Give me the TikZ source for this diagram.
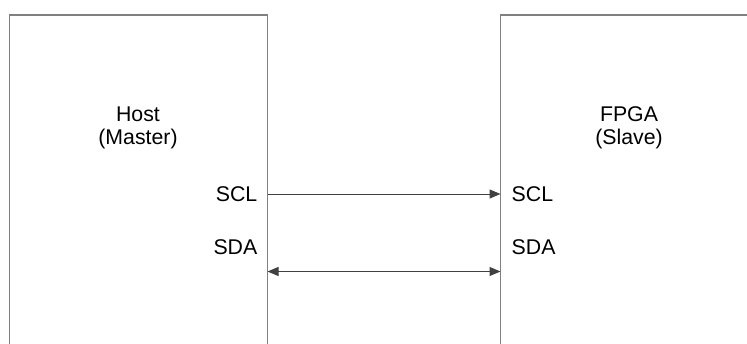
\documentclass[tikz,border=0pt]{standalone}
\usepackage{fontspec}
\setmainfont{Liberation Sans}
\usetikzlibrary{arrows.meta}
\definecolor{boxgray}{HTML}{808080}
\definecolor{arrgray}{HTML}{404040}
\begin{document}
\begin{tikzpicture}[x=1pt,y=-1pt,
  boxline/.style={draw=boxgray,line width=1.3pt},
  sig/.style={draw=arrgray,line width=1pt},
  lbl/.style={inner sep=0pt,font=\fontsize{21.3}{23}\selectfont},
  title/.style={lbl,align=center}]
\useasboundingbox (0,0) rectangle (747,343);
\clip (0,0) rectangle (747,343);
\fill[white] (0,0) rectangle (747,343);
% boxes (open at the bottom, right box runs past the right edge)
\draw[boxline] (9.5,345) |- (267.5,15) -- (267.5,345);
\draw[boxline] (500.5,345) |- (770,15);
\coordinate (hostR) at (267.5,0);
\coordinate (fpgaL) at (500.5,0);
% titles
\node[title] (host) at (138,127.5) {Host\\(Master)};
\node[title] (fpga) at (629,127.5) {FPGA\\(Slave)};
% pin labels
\node[lbl,anchor=base east] (sclL) at (257.5,201.5) {SCL};
\node[lbl,anchor=base east] (sdaL) at (257.5,254) {SDA};
\node[lbl,anchor=base west] (sclR) at (511.5,201.5) {SCL};
\node[lbl,anchor=base west] (sdaR) at (511.5,254) {SDA};
% connectors
\coordinate (sclA) at (hostR |- 0,194);
\coordinate (sclB) at (fpgaL |- 0,194);
\coordinate (sdaA) at (hostR |- 0,271.5);
\coordinate (sdaB) at (fpgaL |- 0,271.5);
\draw[sig,-{Triangle[length=11pt,width=9pt]}] (sclA) -- (sclB);
\draw[sig,{Triangle[length=11pt,width=9pt]}-{Triangle[length=11pt,width=9pt]}] (sdaA) -- (sdaB);
\end{tikzpicture}
\end{document}
